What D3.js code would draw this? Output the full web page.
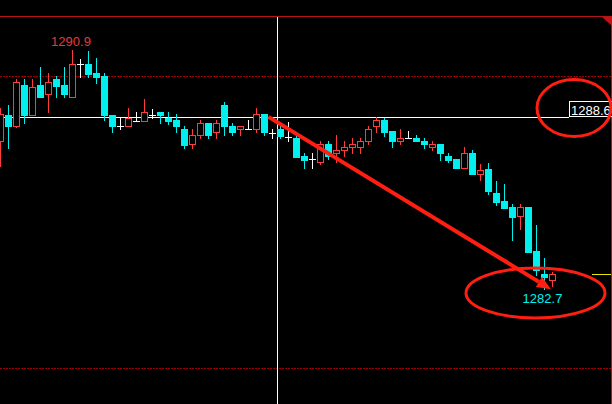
<!DOCTYPE html>
<html>
<head>
<meta charset="utf-8">
<script src="https://cdn.jsdelivr.net/npm/d3@7"></script>
<style>
  html, body { margin: 0; padding: 0; background: #000; }
  svg { display: block; }
</style>
</head>
<body>
<div id="chart"></div>
<script>
// OHLC bars, oldest first (gold, short timeframe)
const opens = [1287.79,1288.68,1288.28,1289.69,1288.68,1289.69,1289.40,1289.90,1289.69,1289.28,
  1290.42,1290.42,1290.10,1290.00,1288.68,1288.28,1288.28,1288.46,1288.45,1288.66,
  1288.78,1288.55,1288.48,1288.19,1287.67,1287.98,1288.40,1288.07,1289.00,1288.30,
  1288.19,1288.19,1288.19,1288.69,1288.05,1288.19,1287.92,1287.89,1287.27,1287.15,
  1287.07,1287.67,1287.36,1287.46,1287.57,1287.57,1287.78,1288.29,1288.48,1288.10,
  1287.78,1287.88,1287.88,1287.79,1287.57,1287.68,1287.27,1287.16,1286.86,1287.37,
  1286.65,1286.82,1285.98,1285.72,1285.50,1285.21,1285.50,1284.01,1283.22,1283.01];
const highs = [1288.89,1289.00,1289.90,1289.90,1289.90,1290.31,1290.10,1290.00,1290.31,1290.90,
  1290.59,1290.85,1290.61,1290.10,1288.68,1288.58,1288.89,1288.77,1289.20,1288.88,
  1288.78,1288.78,1288.69,1288.28,1288.19,1288.48,1288.40,1288.48,1289.10,1288.40,
  1288.30,1288.48,1288.89,1288.69,1288.19,1288.34,1288.41,1288.02,1287.37,1287.36,
  1287.79,1287.79,1287.99,1287.79,1287.88,1287.88,1288.30,1288.59,1288.57,1288.10,
  1288.20,1288.10,1287.99,1287.89,1287.79,1287.68,1287.37,1287.16,1287.58,1287.47,
  1286.99,1287.02,1286.40,1286.30,1285.62,1285.62,1285.50,1284.90,1283.77,1283.30];
const lows = [1286.92,1287.55,1288.27,1288.38,1288.68,1289.28,1288.77,1289.28,1289.28,1289.28,
  1289.98,1289.98,1289.77,1288.48,1288.07,1288.18,1288.28,1288.46,1288.45,1288.57,
  1288.40,1288.36,1288.07,1287.55,1287.55,1287.88,1287.88,1287.88,1287.98,1287.98,
  1287.98,1288.19,1288.07,1287.98,1287.88,1287.88,1287.79,1287.24,1286.86,1286.86,
  1286.98,1287.15,1287.04,1287.27,1287.36,1287.36,1287.67,1288.07,1287.96,1287.57,
  1287.67,1287.88,1287.78,1287.55,1287.45,1287.14,1287.06,1286.86,1286.86,1286.65,
  1286.44,1285.96,1285.58,1285.49,1284.38,1284.76,1283.98,1283.18,1282.70,1282.80];
const closes = [1288.69,1288.28,1289.78,1288.65,1289.61,1289.28,1289.78,1289.66,1289.40,1290.42,
  1290.42,1290.08,1289.98,1288.65,1288.28,1288.28,1288.57,1288.46,1288.78,1288.66,
  1288.66,1288.45,1288.28,1287.65,1287.99,1288.40,1287.98,1288.40,1288.28,1288.07,
  1288.30,1288.19,1288.69,1288.07,1288.05,1287.96,1287.92,1287.24,1287.13,1287.15,
  1287.67,1287.27,1287.46,1287.57,1287.67,1287.78,1288.19,1288.48,1288.07,1287.78,
  1287.88,1287.88,1287.78,1287.66,1287.68,1287.36,1287.13,1286.86,1287.36,1286.65,
  1286.77,1286.07,1285.70,1285.49,1285.18,1285.50,1283.98,1283.36,1283.11,1283.22];

const levelLines = [1290.0, 1280.0];   // dotted red levels
const crossPrice = 1288.6;
const crossIndex = 34.55;
const hiLabel = "1290.9", loLabel = "1282.7";

const W = 612, H = 404;
const upColor = "#ff3c3c", downColor = "#00f0f0", dojiColor = "#ffffff";

const x = d3.scaleLinear().domain([0, 69]).range([0.5, 552.5]);
const y = d3.scaleLinear().domain([1280, 1290]).range([368, 76]);

const bars = opens.map((o, i) => ({ i: i, o: o, h: highs[i], l: lows[i], c: closes[i] }));

const svg = d3.select("#chart").append("svg")
  .attr("width", W).attr("height", H)
  .style("background", "#000");

// grid / levels
svg.append("line").attr("x1", 0).attr("x2", W).attr("y1", 16.5).attr("y2", 16.5)
  .attr("stroke", "#b41414").attr("stroke-width", 1);
svg.selectAll(".level").data(levelLines).enter().append("line")
  .attr("x1", 0).attr("x2", W)
  .attr("y1", d => Math.round(y(d)) + 0.5).attr("y2", d => Math.round(y(d)) + 0.5)
  .attr("stroke", "#a00000").attr("stroke-dasharray", "2 1");
svg.append("line").attr("x1", 611.5).attr("x2", 611.5).attr("y1", 16).attr("y2", H)
  .attr("stroke", "#b41414");
svg.append("path").attr("d", "M602,17L612,17L612,26Z").attr("fill", "#c01414");

// crosshair
const cx = Math.round(x(crossIndex)) + 0.5, cy = Math.round(y(crossPrice)) + 0.5;
svg.append("line").attr("x1", cx).attr("x2", cx).attr("y1", 17).attr("y2", H)
  .attr("stroke", "#fff");
svg.append("line").attr("x1", 0).attr("x2", 569).attr("y1", cy).attr("y2", cy)
  .attr("stroke", "#fff");

// candles
const g = svg.append("g");
bars.forEach(d => {
  const cxx = x(d.i);
  const col = d.c > d.o ? upColor : d.c < d.o ? downColor : dojiColor;
  const sel = g.append("g");
  sel.append("line")
    .attr("x1", cxx).attr("x2", cxx)
    .attr("y1", Math.round(y(d.h))).attr("y2", Math.round(y(d.l)) + 1)
    .attr("stroke", col);
  const top = Math.round(y(Math.max(d.o, d.c))), bot = Math.round(y(Math.min(d.o, d.c)));
  if (d.c > d.o) {
    sel.append("rect")
      .attr("x", cxx - 3).attr("y", top + 0.5)
      .attr("width", 6).attr("height", Math.max(bot - top, 1))
      .attr("fill", "#000").attr("stroke", col);
  } else if (d.c < d.o) {
    sel.append("rect")
      .attr("x", cxx - 3.5).attr("y", top)
      .attr("width", 7).attr("height", Math.max(bot - top, 1) + 1)
      .attr("fill", col);
  } else {
    sel.append("line")
      .attr("x1", cxx - 3.5).attr("x2", cxx + 3.5)
      .attr("y1", top + 0.5).attr("y2", top + 0.5)
      .attr("stroke", col);
  }
});

// current price marker (yellow) at last close
const last = closes[closes.length - 1];
svg.append("line").attr("x1", 592).attr("x2", 611)
  .attr("y1", Math.round(y(last)) + 0.5).attr("y2", Math.round(y(last)) + 0.5)
  .attr("stroke", "#e6e600");

// high / low labels
const hiIdx = d3.maxIndex(highs), loIdx = d3.minIndex(lows);
svg.append("text").attr("x", x(hiIdx) - 1.5).attr("y", y(highs[hiIdx]) - 4)
  .attr("text-anchor", "middle").attr("fill", "#e03c3c")
  .style("font", "13px 'Liberation Sans', Arial, sans-serif").text(hiLabel);
svg.append("text").attr("x", x(loIdx) - 2).attr("y", y(lows[loIdx]) + 14)
  .attr("text-anchor", "middle").attr("fill", downColor)
  .style("font", "13px 'Liberation Sans', Arial, sans-serif").text(loLabel);

// crosshair price box
svg.append("rect").attr("x", 569.5).attr("y", 101.5).attr("width", 44).attr("height", 15)
  .attr("fill", "#000").attr("stroke", "#fff");
svg.append("text").attr("x", 571).attr("y", 114.5).attr("fill", "#fff")
  .style("font", "13px 'Liberation Sans', Arial, sans-serif").text(crossPrice.toFixed(1));

// hand-drawn annotations
const ann = "#ff1e12";
const ax1 = x(33.5), ay1 = y(crossPrice), ax2 = x(68.8), ay2 = y(1282.7);
const ang = Math.atan2(ay2 - ay1, ax2 - ax1);
const hl = 14, hw = 6;
const bx = ax2 - hl * Math.cos(ang), by = ay2 - hl * Math.sin(ang);
svg.append("line").attr("x1", ax1).attr("y1", ay1).attr("x2", bx).attr("y2", by)
  .attr("stroke", ann).attr("stroke-width", 4);
svg.append("path")
  .attr("d", `M${ax2},${ay2}L${bx + hw * Math.sin(ang)},${by - hw * Math.cos(ang)}L${bx - hw * Math.sin(ang)},${by + hw * Math.cos(ang)}Z`)
  .attr("fill", ann);

svg.append("ellipse").attr("cx", 574).attr("cy", 108).attr("rx", 37).attr("ry", 28.5)
  .attr("fill", "none").attr("stroke", ann).attr("stroke-width", 3);
svg.append("ellipse").attr("cx", 535.5).attr("cy", 293).attr("rx", 69.5).attr("ry", 25)
  .attr("fill", "none").attr("stroke", ann).attr("stroke-width", 3);
</script>
</body>
</html>
